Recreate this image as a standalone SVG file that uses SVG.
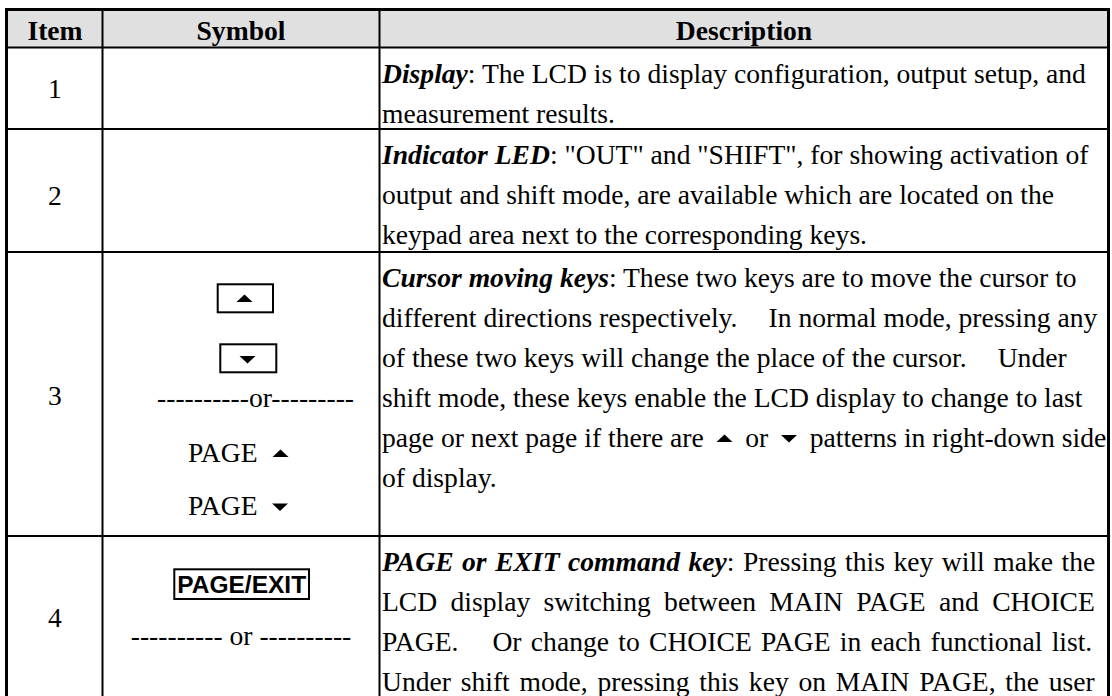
<svg xmlns="http://www.w3.org/2000/svg" width="1112" height="696" viewBox="0 0 1112 696">
  <style>
    text { font-family: "Liberation Serif", "Times New Roman", serif; font-size: 27.6px; fill: #000; white-space: pre; }
    .h { font-weight: bold; text-anchor: middle; }
    .c { text-anchor: middle; }
    .bi { font-weight: bold; font-style: italic; }
    .key { font-family: "Liberation Sans", Arial, sans-serif; font-weight: bold; font-size: 24.5px; text-anchor: middle; }
    .grid { stroke: #000; stroke-width: 2; fill: none; }
    .outer { stroke: #000; stroke-width: 3; fill: none; }
    .box { fill: none; stroke: #000; stroke-width: 2; }
    .tri { fill: #000; }
  </style>

  <rect width="1112" height="696" fill="#fff"/>

  <!-- table frame -->
  <g id="table-grid">
    <rect x="6.5" y="9.5" width="1102" height="38" fill="#e0e0e0"/>
    <path class="grid" d="M6.5 47.5H1108.5M6.5 129H1108.5M6.5 252H1108.5M6.5 536H1108.5"/>
    <path class="grid" d="M102.5 9.5V700M379.5 9.5V700"/>
    <path class="outer" d="M6.5 700V9.5H1108.5V700"/>
  </g>

  <!-- header row -->
  <g id="header">
    <text class="h" x="55" y="40">Item</text>
    <text class="h" x="241" y="40">Symbol</text>
    <text class="h" x="744" y="40">Description</text>
  </g>

  <!-- item 1: display -->
  <g id="row-1">
    <text class="c" x="55" y="97.5">1</text>
    <text x="382" y="82.5"><tspan class="bi">Display</tspan>: The LCD is to display configuration, output setup, and</text>
    <text x="382" y="122.5">measurement results.</text>
  </g>

  <!-- item 2: indicator LED -->
  <g id="row-2">
    <text class="c" x="55" y="205">2</text>
    <text x="382" y="164"><tspan class="bi">Indicator LED</tspan>: "OUT" and "SHIFT", for showing activation of</text>
    <text x="382" y="204">output and shift mode, are available which are located on the</text>
    <text x="382" y="244">keypad area next to the corresponding keys.</text>
  </g>

  <!-- item 3: cursor moving keys -->
  <g id="row-3">
    <text class="c" x="55" y="405">3</text>
    <rect class="box" x="217.7" y="284.3" width="55.3" height="28"/>
    <polygon class="tri" points="236.5,302 252.5,302 244.5,294.5"/>
    <rect class="box" x="220.3" y="344.3" width="56" height="28"/>
    <polygon class="tri" points="239.5,356 255.5,356 247.5,363.5"/>
    <text x="157" y="406.7">----------or---------</text>
    <text x="188" y="461.7">PAGE</text>
    <polygon class="tri" points="272.5,457 288.5,457 280.5,449.5"/>
    <text x="188" y="515">PAGE</text>
    <polygon class="tri" points="272,503.5 288,503.5 280,511"/>

    <text x="382" y="286.7"><tspan class="bi">Cursor moving keys</tspan>: These two keys are to move the cursor to</text>
    <text x="382" y="326.7">different directions respectively.<tspan dx="31">In normal mode, pressing any</tspan></text>
    <text x="382" y="366.7">of these two keys will change the place of the cursor.<tspan dx="31">Under</tspan></text>
    <text x="382" y="406.7">shift mode, these keys enable the LCD display to change to last</text>
    <text x="382" y="446.7">page or next page if there are</text>
    <polygon class="tri" points="716.5,442 732.5,442 724.5,434.5"/>
    <text x="745.3" y="446.7">or</text>
    <polygon class="tri" points="781,435 797,435 789,442.5"/>
    <text x="809.7" y="446.7">patterns in right-down side</text>
    <text x="382" y="486.7">of display.</text>
  </g>

  <!-- item 4: PAGE / EXIT key -->
  <g id="row-4">
    <text class="c" x="55" y="626.5">4</text>
    <rect class="box" x="174.3" y="569.3" width="134.7" height="29.7"/>
    <text class="key" x="241.7" y="593.3">PAGE/EXIT</text>
    <text class="c" x="241" y="645">---------- or ----------</text>

    <text x="382" y="570.7" word-spacing="1.63"><tspan class="bi">PAGE or EXIT command key</tspan>: Pressing this key will make the</text>
    <text x="382" y="610.7" word-spacing="6.4">LCD display switching between MAIN PAGE and CHOICE</text>
    <text x="382" y="650.7" word-spacing="2.4">PAGE.<tspan dx="34">Or change to CHOICE PAGE in each functional list.</tspan></text>
    <text x="382" y="690.7" word-spacing="2.86">Under shift mode, pressing this key on MAIN PAGE, the user</text>
  </g>
</svg>
